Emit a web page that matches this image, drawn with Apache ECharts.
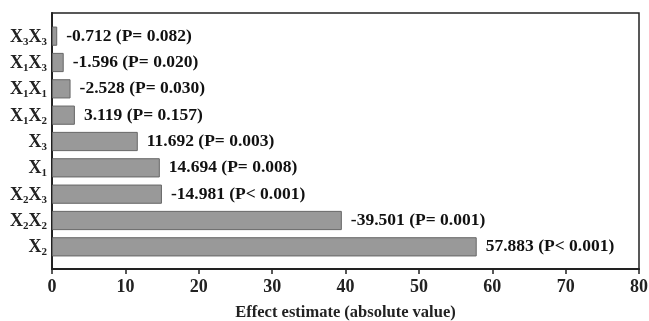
<!DOCTYPE html>
<html>
<head>
<meta charset="utf-8">
<script src="https://cdn.jsdelivr.net/npm/echarts@6/dist/echarts.min.js"></script>
<style>html,body{margin:0;padding:0;background:#fff}#c{width:649px;height:321px}</style>
</head>
<body>
<div id="c"></div>
<script>
// Data (top to bottom)
var categories = ['X3X3', 'X1X3', 'X1X1', 'X1X2', 'X3', 'X1', 'X2X3', 'X2X2', 'X2'];
var effects = [-0.712, -1.596, -2.528, 3.119, 11.692, 14.694, -14.981, -39.501, 57.883];
var pValues = ['P= 0.082', 'P= 0.020', 'P= 0.030', 'P= 0.157', 'P= 0.003', 'P= 0.008', 'P< 0.001', 'P= 0.001', 'P< 0.001'];
var xTicks = [0, 10, 20, 30, 40, 50, 60, 70, 80];

var FONT = '"Liberation Serif", "DejaVu Serif", serif';
var absVals = effects.map(function (v) { return Math.abs(v); });

function catLabel(name) {
  var out = '';
  for (var i = 0; i < name.length; i++) {
    var ch = name[i];
    if (/[0-9]/.test(ch)) out += '{s|' + ch + '}';
    else out += '{m|' + ch + '}';
  }
  return out;
}

var chart = echarts.init(document.getElementById('c'), null, {renderer: 'canvas'});
chart.setOption({
  animation: false,
  backgroundColor: '#fff',
  grid: [
    {left: 52, right: 10, top: 13, bottom: 52, outerBoundsMode: 'none', containLabel: false,
      show: true, borderColor: '#222', borderWidth: 1.5, backgroundColor: 'transparent'},
    {left: 52, right: 10, top: 23, bottom: 61, outerBoundsMode: 'none', containLabel: false}
  ],
  xAxis: [
    {
      gridIndex: 0, type: 'value', min: xTicks[0], max: xTicks[xTicks.length - 1], interval: 10,
      axisLine: {show: true, lineStyle: {color: '#222', width: 2}},
      axisTick: {show: true, length: 5, lineStyle: {color: '#222', width: 1.5}},
      splitLine: {show: false},
      axisLabel: {color: '#222', fontFamily: FONT, fontWeight: 'bold', fontSize: 18, margin: 9},
      name: 'Effect estimate (absolute value)', nameLocation: 'middle', nameGap: 35,
      nameTextStyle: {color: '#222', fontFamily: FONT, fontWeight: 'bold', fontSize: 16.5}
    },
    {gridIndex: 1, type: 'value', min: 0, max: 80, show: false}
  ],
  yAxis: [
    {gridIndex: 0, type: 'value', min: 0, max: 1, show: true,
      axisLine: {show: true, lineStyle: {color: '#222', width: 2}},
      axisTick: {show: false}, axisLabel: {show: false}, splitLine: {show: false}},
    {
      gridIndex: 1, type: 'category', data: categories, inverse: true,
      axisLine: {show: false}, axisTick: {show: false},
      axisLabel: {
        margin: 5,
        formatter: function (v) { return catLabel(v); },
        rich: {
          m: {fontFamily: FONT, fontWeight: 'bold', fontSize: 18, color: '#222', lineHeight: 20, verticalAlign: 'bottom'},
          s: {fontFamily: FONT, fontWeight: 'bold', fontSize: 11, color: '#222', lineHeight: 20, verticalAlign: 'bottom', padding: [0, 0, -1, 0]}
        }
      }
    }
  ],
  series: [{
    type: 'bar', xAxisIndex: 1, yAxisIndex: 1,
    data: absVals,
    barCategoryGap: '27%',
    itemStyle: {color: '#999999', borderColor: '#666', borderWidth: 1},
    label: {
      show: true, position: 'right', distance: 9,
      fontFamily: FONT, fontWeight: 'bold', fontSize: 17.5, color: '#111',
      formatter: function (p) { return effects[p.dataIndex].toFixed(3) + ' (' + pValues[p.dataIndex] + ')'; }
    }
  }]
});
</script>
</body>
</html>
